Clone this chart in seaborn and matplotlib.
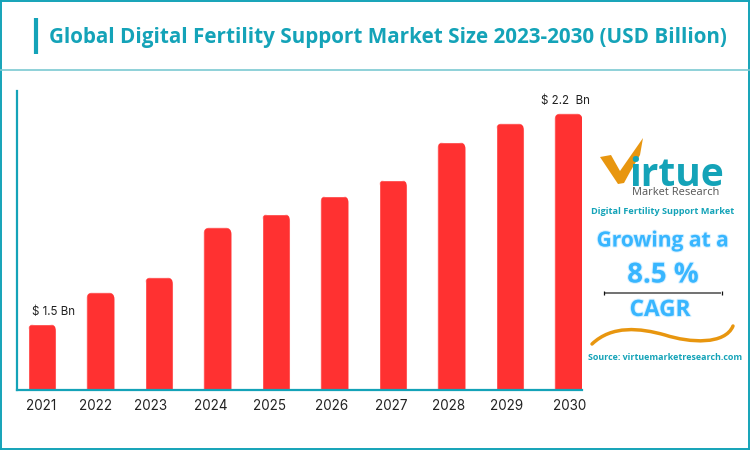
import seaborn as sns
import pandas as pd
import matplotlib.pyplot as plt
from matplotlib.patches import FancyBboxPatch, Polygon, PathPatch
from matplotlib.path import Path
import matplotlib.patheffects as pe

# Values (only first and last are labelled in the picture)
years = ['2021', '2022', '2023', '2024', '2025', '2026', '2027', '2028', '2029', '2030']
market_size = [1.505, 1.61, 1.66, 1.825, 1.87, 1.93, 1.983, 2.108, 2.17, 2.203]
first_label = '$ 1.5 Bn'
last_label = '$ 2.2  Bn'

TEAL = '#14A3B8'
RED = '#FF3131'
ORANGE = '#E8960F'
BLUE = '#38B6FF'
W, H = 750, 450

data = pd.DataFrame({'Year': years, 'Size': market_size})

sns.set_theme(style='white')
plt.rcParams['font.family'] = ['Open Sans', 'DejaVu Sans']
plt.rcParams['lines.solid_capstyle'] = 'butt'

fig = plt.figure(figsize=(7.5, 4.5), dpi=100)

# Main chart, axes box placed in pixels
ax = fig.add_axes([17 / W, 1 - 389.5 / H, 565 / W, 298.5 / H])
sns.barplot(x='Year', y='Size', data=data, color=RED, saturation=1, width=0.48, ax=ax)
ax.set_xlim(-0.427, 9.231)
ax.set_ylim(1.288, 2.277)
ax.set_xlabel('')
ax.set_ylabel('')
ax.set_yticks([])
ax.tick_params(axis='x', length=0, labelbottom=False)
ax.patch.set_alpha(0)

# Rounded top corners: clip each seaborn bar with a rounded box
y_per_x = (2.277 - 1.288) / 298.5 * 58.5
for bar in ax.patches:
    clip = FancyBboxPatch((bar.get_x(), 1.2), bar.get_width(), bar.get_height() + bar.get_y() - 1.2,
                          boxstyle='round,pad=0,rounding_size=0.12', mutation_aspect=y_per_x,
                          transform=ax.transData, facecolor='none', edgecolor='none')
    ax.add_patch(clip)
    bar.set_clip_path(clip)

for side in ['top', 'right']:
    ax.spines[side].set_visible(False)
for side in ['left', 'bottom']:
    ax.spines[side].set_color(TEAL)
    ax.spines[side].set_linewidth(1.6)

# The year labels do not sit exactly under the bars in the original
label_shift = [-1, -5, -8, -6.5, -6, -2.5, -2, -2.5, -3, 1.5]
for i, year in enumerate(years):
    ax.annotate(year, (i, 0), xycoords=ax.get_xaxis_transform(), xytext=(label_shift[i] * 0.72, -12),
                textcoords='offset points', ha='center', va='center', fontsize=9.7, color='#222222',
                family=['Inter', 'DejaVu Sans'])

ax.annotate(first_label, (0, market_size[0]), xytext=(8, 9), textcoords='offset points', ha='center',
            va='center', fontsize=8.3, color='#222222', family=['Inter', 'DejaVu Sans'])
ax.annotate(last_label, (9, market_size[9]), xytext=(-2, 9), textcoords='offset points', ha='center',
            va='center', fontsize=8.3, color='#222222', family=['Inter', 'DejaVu Sans'], annotation_clip=False)

# Overlay in pixel coordinates for the frame, header and side panel
ov = fig.add_axes([0, 0, 1, 1], zorder=5)
ov.set_xlim(0, W)
ov.set_ylim(H, 0)
ov.axis('off')

# frame and header
ov.plot([0.7, 0.7], [0, H], color=TEAL, lw=1.4)
ov.plot([0, W], [0.7, 0.7], color=TEAL, lw=1.4)
ov.plot([W - 0.7, W - 0.7], [0, H], color=TEAL, lw=1.4)
ov.plot([0, W], [H - 0.7, H - 0.7], color=TEAL, lw=1.4)
ov.plot([0, W], [69.5, 69.5], color='#7CC9D2', lw=1.2)
ov.plot([36, 36], [18, 54], color=TEAL, lw=3)
ov.text(49, 37, 'Global Digital Fertility Support Market Size 2023-2030 (USD Billion)', fontsize=14.87,
        fontweight='bold', color=TEAL, va='center', ha='left', family=['Open Sans', 'DejaVu Sans'])

# logo: orange tick and wordmark
ov.add_patch(Polygon([(600, 157), (611, 155), (620, 171), (643, 138), (640, 155), (630, 172), (624, 183), (618, 184)],
                     closed=True, color=ORANGE, lw=0))
ov.text(677, 185.5, 'irtue', fontsize=28, fontweight='bold', color=TEAL, ha='center', va='baseline',
        family=['Open Sans', 'DejaVu Sans'])
ov.text(676, 195, 'Market Research', fontsize=7.9, color='#555555', ha='center', va='baseline',
        family=['Open Sans', 'DejaVu Sans'])
ov.text(663, 211, 'Digital Fertility Support Market', fontsize=6.6, fontweight='bold', color=TEAL,
        ha='center', va='center', family=['Open Sans', 'DejaVu Sans'])

# growth text with a soft glow
glow = [pe.withStroke(linewidth=1.5, foreground=BLUE, alpha=0.2)]
ov.text(663, 241, 'Growing at a', fontsize=15.1, fontweight='bold', color=BLUE, ha='center', va='center',
        path_effects=glow, family=['Open Sans', 'DejaVu Sans'])
ov.text(663, 275, '8.5 %', fontsize=19.9, fontweight='bold', color=BLUE, ha='center', va='center',
        path_effects=glow, family=['Open Sans', 'DejaVu Sans'])
ov.plot([604, 721], [292.5, 292.5], color='#666666', lw=1.3)
ov.plot([604, 604], [290.5, 294.5], color='#111111', lw=0.9)
ov.plot([721.5, 721.5], [290.5, 294.5], color='#111111', lw=0.9)
ov.text(660, 310, 'CAGR', fontsize=16.3, fontweight='bold', color=BLUE, ha='center', va='center',
        path_effects=glow, family=['Open Sans', 'DejaVu Sans'])

# orange swoosh
swoosh = Path([(592, 344), (612, 325), (640, 328), (665, 335), (690, 343), (725, 345), (733, 326)],
              [Path.MOVETO, Path.CURVE4, Path.CURVE4, Path.CURVE4, Path.CURVE4, Path.CURVE4, Path.CURVE4])
ov.add_patch(PathPatch(swoosh, facecolor='none', edgecolor=ORANGE, lw=2.5, capstyle='round'))

ov.text(665, 358, 'Source: virtuemarketresearch.com', fontsize=6.4, fontweight='bold', color=TEAL,
        ha='center', va='center', family=['Open Sans', 'DejaVu Sans'])

fig.savefig('out.png', dpi=100)
